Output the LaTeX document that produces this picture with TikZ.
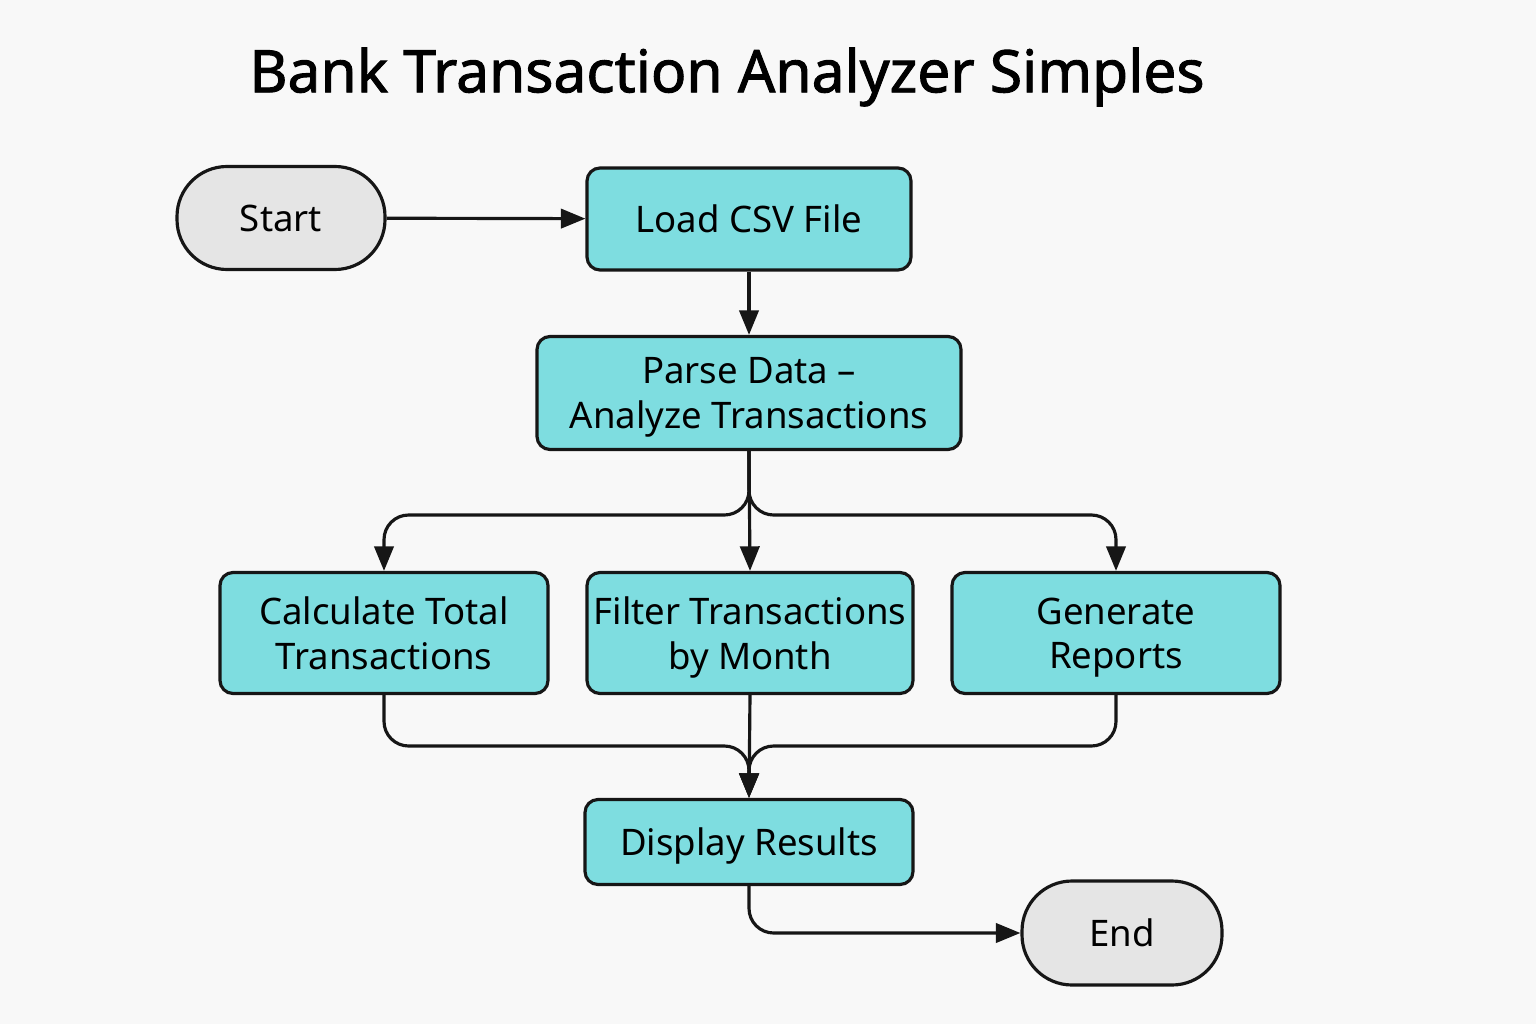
\documentclass[tikz,border=0pt]{standalone}
\usepackage{fontspec}
\setmainfont{Noto Sans}
\newfontfamily\titlefont[FakeBold=1.6]{Noto Sans}
\usetikzlibrary{arrows.meta}

\definecolor{boxcyan}{HTML}{7EDDE0}
\definecolor{termgray}{HTML}{E5E5E5}
\definecolor{pagebg}{HTML}{F8F8F8}
\definecolor{linedark}{HTML}{161616}

\begin{document}
\begin{tikzpicture}[
    step box/.style={draw=linedark, line width=0.9pt, fill=boxcyan, rounded corners=0.13cm,
        align=center, font=\fontsize{10.4}{12.6}\selectfont, inner sep=0pt, text depth=0pt},
    term/.style={draw=linedark, line width=0.9pt, fill=termgray, rounded corners=0.5cm,
        align=center, font=\fontsize{10.4}{12.6}\selectfont, inner sep=0pt},
    flow/.style={-{Triangle[length=7pt,width=5.5pt]}, draw=linedark, line width=0.9pt},
  ]
    \fill[pagebg] (0,0) rectangle (15.36,10.24);
    \useasboundingbox (0,0) rectangle (15.36,10.24);

    \node[font=\fontsize{16.7}{20}\selectfont\titlefont] (title) at (7.27, 9.47)
    {Bank Transaction Analyzer Simples};

    \node[term, minimum width=2.08cm, minimum height=1.03cm] (start) at (2.81, 8.06) {Start};
    \node[step box, minimum width=3.24cm, minimum height=1.02cm] (load) at (7.49, 8.05) {Load CSV File};
    \node[step box, minimum width=4.24cm, minimum height=1.13cm] (parse) at (7.49, 6.31)
    {Parse Data --\\Analyze Transactions};

    \node[step box, minimum width=3.28cm, minimum height=1.21cm] (calc) at (3.84, 3.91)
    {Calculate Total\\Transactions};
    \node[step box, minimum width=3.26cm, minimum height=1.21cm] (filter) at (7.50, 3.91)
    {Filter Transactions\\by Month};
    \node[step box, minimum width=3.28cm, minimum height=1.21cm] (report) at (11.16, 3.91)
    {Generate\\Reports};

    \node[step box, minimum width=3.28cm, minimum height=0.85cm] (display) at (7.49, 1.82) {Display Results};
    \node[term, minimum width=2.00cm, minimum height=1.04cm] (end) at (11.22, 0.91) {End};

    % split and merge points
    \coordinate (split) at (7.49, 5.09);
    \coordinate (merge) at (7.49, 2.78);

    \draw[flow] (start) -- (load);
    \draw[flow] (load) -- (parse);

    \draw[flow, rounded corners=7pt] (parse.south) -- (split) -| (calc.north);
    \draw[flow] (parse.south) -- (filter.north);
    \draw[flow, rounded corners=7pt] (parse.south) -- (split) -| (report.north);

    \draw[flow, rounded corners=7pt] (calc.south) |- (merge) -- (display.north);
    \draw[flow] (filter.south) -- (display.north);
    \draw[flow, rounded corners=7pt] (report.south) |- (merge) -- (display.north);

    \draw[flow, rounded corners=7pt] (display.south) |- (end.west);
  \end{tikzpicture}
\end{document}
